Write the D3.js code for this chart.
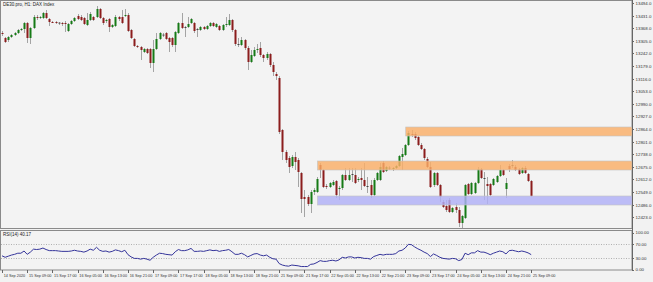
<!DOCTYPE html>
<meta charset="utf-8">
<style>
body { margin: 0; background: #f2f2f2; }
svg { display: block; font-family: "Liberation Sans", Arial, sans-serif; }
.axis text { font-size: 4.4px; fill: #333; }
.axis path, .axis line { stroke: #666; shape-rendering: crispEdges; }
.time text { font-size: 3.8px; }
</style>
<svg width="653" height="282"></svg>
<script src="https://d3js.org/d3.v7.min.js"></script>
<script>

// DE30 H1 candles (one per bar, left to right)
var opens = [
  13344,13319,13309,13324,13334,13344,13359,13364,13394,13319,
  13369,13424,13419,13419,13444,13414,13399,13399,13394,13394,
  13394,13354,13389,13404,13429,13424,13419,13384,13409,13424,
  13424,13464,13419,13404,13414,13374,13379,13424,13424,13429,
  13434,13359,13314,13279,13274,13249,13264,13264,13194,13264,
  13314,13334,13344,13319,13319,13284,13344,13394,13374,13374,
  13394,13394,13364,13359,13374,13364,13379,13394,13374,13379,
  13359,13384,13384,13409,13359,13289,13284,13309,13269,13199,
  13229,13259,13269,13234,13219,13239,13184,13139,13119,12859,
  12749,12719,12679,12724,12709,12644,12524,12524,12489,12549,
  12549,12684,12659,12579,12574,12584,12604,12564,12569,12634,
  12609,12639,12634,12609,12619,12609,12579,12584,12534,12609,
  12609,12694,12654,12669,12664,12669,12679,12724,12734,12784,
  12839,12839,12824,12784,12764,12714,12674,12584,12644,12584,
  12499,12479,12509,12449,12474,12459,12394,12419,12589,12539,
  12544,12594,12664,12619,12589,12589,12584,12599,12629,12659,
  12564,12679,12684,12674,12664,12644,12669,12639,12604];
var highs = [
  13354,13324,13329,13339,13349,13364,13369,13399,13399,13374,
  13434,13434,13429,13449,13459,13419,13404,13404,13399,13399,
  13404,13394,13409,13424,13439,13434,13424,13444,13449,13429,
  13479,13469,13424,13414,13419,13389,13434,13429,13459,13464,
  13444,13364,13319,13284,13279,13269,13269,13269,13309,13344,
  13349,13344,13349,13324,13324,13354,13399,13444,13379,13424,
  13419,13399,13369,13379,13379,13384,13399,13399,13394,13384,
  13389,13424,13439,13414,13364,13319,13324,13314,13279,13259,
  13274,13289,13299,13239,13249,13244,13199,13149,13129,12864,
  12759,12729,12734,12749,12719,12649,12559,12534,12559,12569,
  12624,12694,12664,12589,12599,12609,12609,12579,12639,12669,
  12669,12669,12669,12624,12669,12694,12624,12609,12619,12649,
  12694,12704,12679,12679,12674,12684,12734,12769,12789,12854,
  12859,12849,12829,12794,12769,12724,12699,12649,12649,12589,
  12509,12509,12519,12474,12494,12474,12434,12589,12594,12599,
  12599,12674,12669,12649,12624,12594,12619,12634,12684,12664,
  12619,12689,12709,12684,12669,12674,12679,12644,12609];
var lows = [
  13329,13294,13299,13319,13329,13339,13354,13344,13294,13289,
  13364,13409,13414,13414,13414,13379,13394,13389,13384,13379,
  13349,13349,13384,13399,13409,13404,13384,13379,13404,13404,
  13419,13414,13384,13394,13349,13369,13374,13404,13389,13424,
  13349,13314,13274,13269,13209,13244,13239,13169,13149,13259,
  13309,13324,13309,13249,13274,13249,13339,13364,13324,13369,
  13389,13344,13324,13354,13359,13359,13374,13374,13369,13354,
  13354,13374,13379,13349,13279,13274,13279,13259,13159,13194,
  13224,13244,13224,13199,13209,13174,13129,13109,12839,12709,
  12694,12644,12669,12659,12574,12444,12424,12479,12444,12534,
  12544,12619,12569,12564,12569,12579,12519,12509,12559,12604,
  12604,12599,12589,12599,12559,12574,12544,12519,12529,12604,
  12604,12644,12649,12659,12654,12664,12674,12659,12729,12779,
  12824,12809,12779,12759,12709,12669,12569,12574,12579,12499,
  12469,12449,12444,12444,12444,12374,12369,12414,12534,12534,
  12539,12589,12614,12509,12489,12529,12579,12594,12624,12629,
  12519,12649,12669,12654,12634,12639,12639,12599,12524];
var closes = [
  13339,13299,13324,13334,13344,13359,13364,13394,13319,13369,
  13424,13419,13424,13444,13419,13399,13394,13394,13396,13389,
  13389,13389,13404,13419,13414,13409,13389,13409,13439,13409,
  13464,13419,13394,13409,13374,13384,13424,13414,13394,13434,
  13354,13319,13279,13274,13259,13264,13244,13194,13264,13314,
  13344,13336,13314,13299,13284,13349,13394,13369,13372,13389,
  13414,13354,13362,13374,13364,13379,13394,13379,13389,13359,
  13384,13389,13409,13359,13289,13287,13309,13269,13199,13234,
  13259,13264,13234,13219,13239,13184,13149,13129,12849,12749,
  12709,12674,12724,12699,12649,12514,12514,12489,12549,12559,
  12614,12659,12574,12574,12594,12599,12534,12569,12634,12609,
  12634,12637,12594,12614,12609,12579,12577,12534,12609,12644,
  12674,12649,12674,12671,12669,12679,12729,12739,12784,12844,
  12834,12819,12784,12764,12719,12674,12574,12644,12584,12524,
  12474,12459,12449,12469,12459,12394,12429,12584,12539,12594,
  12594,12664,12619,12617,12579,12534,12614,12629,12659,12634,
  12594,12664,12682,12659,12639,12669,12644,12604,12529];

// RSI(14) per bar
var rsi = [
  37,33,36,39,41,44,44,50,41,47,
  55,54,55,58,54,51,51,51,50,49,
  49,49,50,52,50,49,47,50,55,52,
  60,52,49,50,47,49,53,51,48,52,
  40,34,30,30,28,30,28,25,33,39,
  44,43,41,40,39,48,54,51,51,53,
  57,49,49,50,49,51,53,51,52,49,
  51,52,54,48,41,41,44,40,34,38,
  42,43,39,37,39,33,29,28,16,12,
  10,9,12,11,10,8,8,8,14,15,
  19,24,22,22,24,25,23,26,33,31,
  34,34,31,33,32,30,30,28,35,38,
  41,39,41,41,41,43,50,52,58,68,
  67,61,56,52,47,43,35,42,38,33,
  30,29,28,30,29,24,27,44,40,45,
  45,51,47,47,44,40,44,47,50,48,
  42,51,52,50,48,50,48,45,40.17];

var timeLabels = ["14 Sep 2020", "15 Sep 09:00", "15 Sep 17:00", "16 Sep 05:00",
  "16 Sep 13:00", "16 Sep 21:00", "17 Sep 09:00", "17 Sep 17:00", "18 Sep 05:00",
  "18 Sep 13:00", "18 Sep 21:00", "21 Sep 09:00", "21 Sep 17:00", "22 Sep 05:00",
  "22 Sep 13:00", "22 Sep 21:00", "23 Sep 09:00", "23 Sep 17:00", "24 Sep 05:00",
  "24 Sep 13:00", "24 Sep 21:00", "25 Sep 09:00"];

var priceTicks = [13494, 13431, 13368, 13305, 13242, 13179, 13116, 13053, 12990,
  12927, 12864, 12801, 12738, 12675, 12612, 12549, 12486, 12423];
var rsiTicks = [0, 30, 70, 100];
var rsiLevels = [30, 70];

// supply / demand zones: first bar, top price, bottom price
var zoneStart = [128, 100, 100];
var zoneTop = [12874, 12704, 12529];
var zoneBottom = [12829, 12659, 12484];
var zoneColor = ["#faae68", "#faae68", "#b0b0f6"];

var svg = d3.select("svg"),
    plotRight = 632,
    priceBottom = 228,
    rsiTop = 230,
    rsiBottom = 270;

var x = d3.scaleLinear().domain([0, closes.length - 1]).range([2, 531.2]);
var y = d3.scaleLinear().domain([12369, 13509]).range([priceBottom, 0]);
var yRsi = d3.scaleLinear().domain([0, 100]).range([269.5, 232.5]);

// pane frames
svg.append("rect")
    .attr("x", 0.5).attr("y", 0.5)
    .attr("width", plotRight - 0.5).attr("height", priceBottom)
    .attr("fill", "#f3f3f3").attr("stroke", "#8a8a8a");
svg.append("rect")
    .attr("x", 0.5).attr("y", rsiTop + 0.5)
    .attr("width", plotRight - 0.5).attr("height", rsiBottom - rsiTop - 0.5)
    .attr("fill", "#f3f3f3").attr("stroke", "#8a8a8a");

// candles
var candle = svg.append("g").selectAll("g")
  .data(closes)
  .enter().append("g");

candle.append("line")
    .attr("x1", function(d, i) { return Math.round(x(i)) + 0.5; })
    .attr("x2", function(d, i) { return Math.round(x(i)) + 0.5; })
    .attr("y1", function(d, i) { return y(highs[i]); })
    .attr("y2", function(d, i) { return y(lows[i]); })
    .attr("stroke", "#a4a4a4")
    .attr("stroke-width", 1);

candle.append("rect")
    .attr("x", function(d, i) { return Math.round(x(i)) - 0.5; })
    .attr("width", 2)
    .attr("y", function(d, i) { return y(Math.max(opens[i], d)); })
    .attr("height", function(d, i) { return Math.max(1, Math.abs(y(opens[i]) - y(d))); })
    .attr("fill", function(d, i) {
      if (Math.abs(d - opens[i]) < 4) return "#444";
      return d > opens[i] ? "#167a16" : "#8b1d1d";
    });

// zones drawn on top, slightly see-through
svg.append("g").selectAll("rect")
  .data(zoneStart)
  .enter().append("rect")
    .attr("x", function(d) { return x(d) + 0.5; })
    .attr("width", function(d) { return plotRight - x(d) - 0.5; })
    .attr("y", function(d, i) { return y(zoneTop[i]); })
    .attr("height", function(d, i) { return y(zoneBottom[i]) - y(zoneTop[i]); })
    .attr("fill", function(d, i) { return zoneColor[i]; })
    .attr("fill-opacity", 0.82)
    .attr("stroke", "#c4c4c4")
    .attr("stroke-width", 0.6);

// price axis
var priceAxis = svg.append("g")
    .attr("class", "axis")
    .attr("transform", "translate(" + plotRight + ",0)")
    .call(d3.axisRight(y).tickValues(priceTicks).tickSize(2).tickPadding(1.5)
      .tickFormat(d3.format(".1f")));
priceAxis.select(".domain").attr("d", "M0.5,0V" + rsiBottom);

// RSI pane
svg.append("g").selectAll("line")
  .data(rsiLevels)
  .enter().append("line")
    .attr("x1", 1).attr("x2", plotRight)
    .attr("y1", function(d) { return Math.round(yRsi(d)) + 0.5; })
    .attr("y2", function(d) { return Math.round(yRsi(d)) + 0.5; })
    .attr("stroke", "#b0b0b0")
    .attr("stroke-dasharray", "1,1.5");

svg.append("path")
    .datum(rsi)
    .attr("fill", "none")
    .attr("stroke", "#34349a")
    .attr("stroke-width", 1)
    .attr("d", d3.line()
      .x(function(d, i) { return x(i); })
      .y(function(d) { return yRsi(d); }));

svg.append("g")
    .attr("class", "axis")
    .attr("transform", "translate(" + plotRight + ",0)")
    .call(d3.axisRight(yRsi).tickValues(rsiTicks).tickSize(2).tickPadding(1.5)
      .tickFormat(d3.format(".2f")))
    .select(".domain").remove();

// time axis
var timeAxis = svg.append("g")
    .attr("class", "axis time")
    .attr("transform", "translate(0," + rsiBottom + ")")
    .call(d3.axisBottom(x)
      .tickValues(d3.range(0, closes.length, 8))
      .tickSize(3)
      .tickFormat(function(d) { return timeLabels[d / 8]; }));
timeAxis.select(".domain").remove();
timeAxis.selectAll("text")
    .attr("text-anchor", "start")
    .attr("dx", 1.2)
    .attr("y", 4.5);

// captions
svg.append("text")
    .attr("x", 3).attr("y", 6)
    .attr("font-size", 4.5).attr("fill", "#222")
    .text("DE30.pro, H1:  DAX Index");
svg.append("text")
    .attr("x", 3).attr("y", rsiTop + 6)
    .attr("font-size", 4.5).attr("fill", "#222")
    .text("RSI(14) 40.17");

</script>
